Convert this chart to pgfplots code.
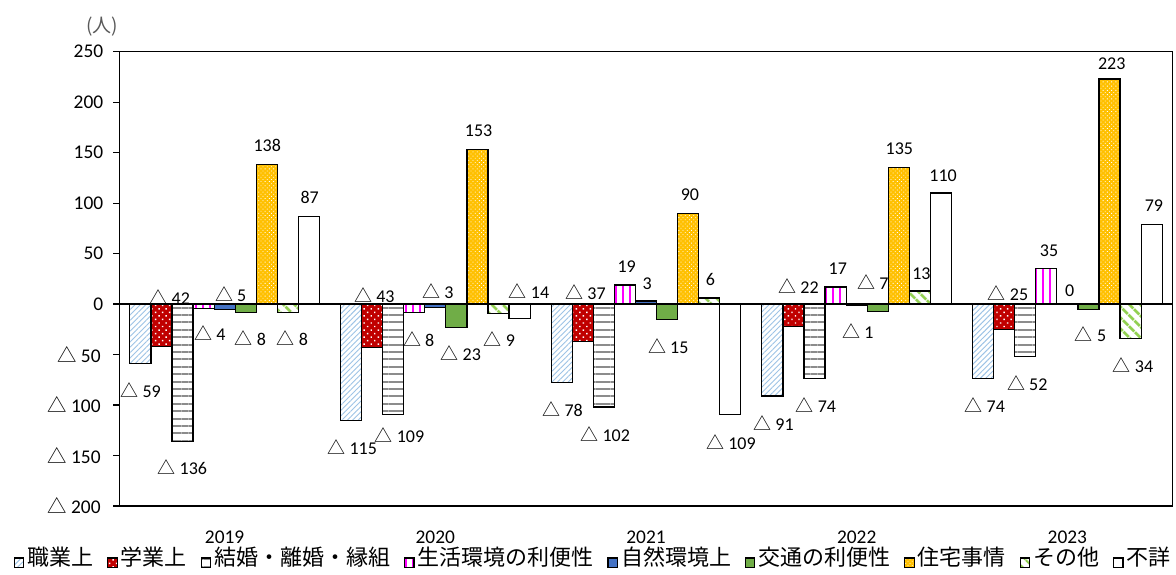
\documentclass[border=0pt]{standalone}
\usepackage{fontspec}
\setmainfont{Carlito}
\newfontfamily\cjk{Noto Sans CJK JP}
\usepackage{pgfplots}
\usepackage{pgfplotstable}
\pgfplotsset{compat=1.18}
\usetikzlibrary{patterns.meta}

\definecolor{jobblue}{HTML}{9DC3E6}
\definecolor{schred}{HTML}{C00000}
\definecolor{margray}{HTML}{8C8C8C}
\definecolor{lifemag}{HTML}{FF00FF}
\definecolor{natblue}{HTML}{4472C4}
\definecolor{trgreen}{HTML}{70AD47}
\definecolor{housegold}{HTML}{FFC000}
\definecolor{othgreen}{HTML}{92D050}
\definecolor{unitgray}{HTML}{595959}

% negative values are written with a triangle instead of a minus sign
\protected\def\tri{{\cjk △}}
\newcommand\vlab[1]{\pgfmathtruncatemacro\vv{#1}%
  \ifnum\vv<0 \tri\ \pgfmathtruncatemacro\va{abs(\vv)}\va\else\vv\fi}

% columns: year index, change (persons), label offset dx, dy (px, dy upward)
\pgfplotstableread{
x y dx dy
0 -59 0.3 -26.3
1 -115 1.2 -26.5
2 -78 0.9 -26.5
3 -91 1.1 -27.3
4 -74 1.7 -26.2
}\tJob
\pgfplotstableread{
x y dx dy
0 -42 8.3 49.5
1 -43 2.3 52.5
2 -37 2.7 49.8
3 -22 5.1 40.3
4 -25 3.9 36.6
}\tSchool
\pgfplotstableread{
x y dx dy
0 -136 -0.2 -25.9
1 -109 6.3 -20.9
2 -102 1.4 -26.9
3 -74 1.3 -26.2
4 -52 2.0 -26.7
}\tMarriage
\pgfplotstableread{
x y dx dy
0 -4 6.4 -25.2
1 -8 4.4 -26.8
2 19 1.7 17.9
3 17 2.2 18.2
4 35 2.7 18.1
}\tLife
\pgfplotstableread{
x y dx dy
0 -5 6.0 14.8
1 -3 2.5 16.4
2 3 1.1 17.4
3 -1 1.2 -25.6
4 0 2.4 13.1
}\tNature
\pgfplotstableread{
x y dx dy
0 -8 4.6 -26.1
1 -23 4.4 -26.0
2 -15 1.2 -26.8
3 -7 -4.9 29.5
4 -5 2.1 -24.9
}\tTraffic
\pgfplotstableread{
x y dx dy
0 138 0.5 19.5
1 153 1.2 18.9
2 90 1.8 18.7
3 135 0.5 19.5
4 223 2.3 15.0
}\tHousing
\pgfplotstableread{
x y dx dy
0 -8 4.5 -26.1
1 -9 0.9 -25.8
2 6 1.2 18.1
3 13 1.6 17.7
4 -34 2.5 -26.6
}\tOther
\pgfplotstableread{
x y dx dy
0 87 0.8 19.0
1 -14 9.4 27.0
2 -109 0.7 -27.6
3 110 2.2 17.7
4 79 2.3 18.6
}\tUnknown

\pgfplotsset{
  % fills of the nine categories
  sJob/.style={fill=white,
    postaction={pattern={Lines[angle=45,distance=1.9pt,line width=0.45pt]}, pattern color=jobblue}},
  sSchool/.style={fill=schred,
    postaction={pattern={Dots[angle=45,distance=2.5pt,radius=0.5pt]}, pattern color=white}},
  sMarriage/.style={fill=white,
    postaction={pattern={Lines[angle=0,distance=3.7pt,line width=1pt]}, pattern color=margray}},
  sLife/.style={fill=white,
    postaction={pattern={Lines[angle=90,distance=3.5pt,line width=1pt]}, pattern color=lifemag}},
  sNature/.style={fill=natblue},
  sTraffic/.style={fill=trgreen},
  sHousing/.style={fill=housegold,
    postaction={pattern={Dots[angle=45,distance=1.5pt,radius=0.3pt]}, pattern color=white}},
  sOther/.style={fill=white,
    postaction={pattern={Lines[angle=-45,distance=4pt,line width=1.5pt]}, pattern color=othgreen}},
  sUnknown/.style={fill=white},
  leg/.style={draw=black, line width=0.6pt,
    legend image code/.code={\draw[##1] (0pt,-4.3pt) rectangle (4.7pt,0.4pt);}},
  bb/.style={ybar, bar width=0.1, draw=black, line width=0.6pt, forget plot},
  % value labels: placed beside the bar end, text taken from the same y value
  lab/.style={draw=none, forget plot, point meta=explicit symbolic,
    nodes near coords={\vlab{\pgfplotspointmeta}},
    every node near coord/.append style={anchor=center, inner sep=0pt,
      font=\fontsize{9}{10}\selectfont, text=black}},
}
% labels of the negative ticks, written as text beside the tick marks
\tikzset{negtick/.style={anchor=east, inner sep=0pt, xshift=-9.15pt,
  font=\fontsize{9.7}{11}\selectfont, text=black}}

\begin{document}
\begin{tikzpicture}
\begin{axis}[
  name=ax,
  scale only axis,
  width=526.7pt, height=227.15pt,
  xmin=-0.5, xmax=4.5, ymin=-200, ymax=250,
  xtick={0,1,2,3,4},
  xticklabels={2019,2020,2021,2022,2023},
  ytick={-200,-150,-100,-50,0,50,100,150,200,250},
  yticklabels={,,,,0,50,100,150,200,250},
  xtick style={draw=none},
  ytick pos=left,
  tick align=outside,
  major tick length=3pt,
  ytick style={black, line width=0.6pt},
  axis line style={black, line width=0.7pt},
  tick label style={font=\fontsize{9.7}{11}\selectfont, text=black},
  xticklabel style={yshift=-6pt},
  yticklabel style={xshift=-1.5pt},
  clip=false,
  legend columns=-1,
  legend style={draw=none, fill=none, inner sep=0pt,
    at={(-0.1006,-0.1160)}, anchor=west,
    font=\cjk\fontsize{11}{13}\selectfont,
    nodes={inner sep=0pt, text height=8pt, text depth=1.2pt},
    /tikz/every odd column/.append style={column sep=1.6pt},
    /tikz/every even column/.append style={column sep=6.8pt}},
  legend cell align=left,
]
\addplot[bb, bar shift=-0.4, sJob] table[x=x,y=y] {\tJob};
\addplot[bb, bar shift=-0.3, sSchool] table[x=x,y=y] {\tSchool};
\addplot[bb, bar shift=-0.2, sMarriage] table[x=x,y=y] {\tMarriage};
\addplot[bb, bar shift=-0.1, sLife] table[x=x,y=y] {\tLife};
\addplot[bb, bar shift=0, sNature] table[x=x,y=y] {\tNature};
\addplot[bb, bar shift=0.1, sTraffic] table[x=x,y=y] {\tTraffic};
\addplot[bb, bar shift=0.2, sHousing] table[x=x,y=y] {\tHousing};
\addplot[bb, bar shift=0.3, sOther] table[x=x,y=y] {\tOther};
\addplot[bb, bar shift=0.4, sUnknown] table[x=x,y=y] {\tUnknown};
% zero line across the plot
\draw[black, line width=0.6pt] (axis cs:-0.5,0) -- (axis cs:4.5,0);
% negative tick labels
\node[negtick] at (axis cs:-0.5,-50) {\tri\ 50};
\node[negtick] at (axis cs:-0.5,-100) {\tri\ 100};
\node[negtick] at (axis cs:-0.5,-150) {\tri\ 150};
\node[negtick] at (axis cs:-0.5,-200) {\tri\ 200};
% labels: bar shift plus offsets (px -> axis units: 210.68 px per year, 1.0096 px per person)
\addplot[lab] table[x expr=\thisrow{x}-0.4+\thisrow{dx}/210.68, y expr=\thisrow{y}+\thisrow{dy}/1.0096, meta=y] {\tJob};
\addplot[lab] table[x expr=\thisrow{x}-0.3+\thisrow{dx}/210.68, y expr=\thisrow{y}+\thisrow{dy}/1.0096, meta=y] {\tSchool};
\addplot[lab] table[x expr=\thisrow{x}-0.2+\thisrow{dx}/210.68, y expr=\thisrow{y}+\thisrow{dy}/1.0096, meta=y] {\tMarriage};
\addplot[lab] table[x expr=\thisrow{x}-0.1+\thisrow{dx}/210.68, y expr=\thisrow{y}+\thisrow{dy}/1.0096, meta=y] {\tLife};
\addplot[lab] table[x expr=\thisrow{x}+\thisrow{dx}/210.68, y expr=\thisrow{y}+\thisrow{dy}/1.0096, meta=y] {\tNature};
\addplot[lab] table[x expr=\thisrow{x}+0.1+\thisrow{dx}/210.68, y expr=\thisrow{y}+\thisrow{dy}/1.0096, meta=y] {\tTraffic};
\addplot[lab] table[x expr=\thisrow{x}+0.2+\thisrow{dx}/210.68, y expr=\thisrow{y}+\thisrow{dy}/1.0096, meta=y] {\tHousing};
\addplot[lab] table[x expr=\thisrow{x}+0.3+\thisrow{dx}/210.68, y expr=\thisrow{y}+\thisrow{dy}/1.0096, meta=y] {\tOther};
\addplot[lab] table[x expr=\thisrow{x}+0.4+\thisrow{dx}/210.68, y expr=\thisrow{y}+\thisrow{dy}/1.0096, meta=y] {\tUnknown};
\addlegendimage{leg, sJob}\addlegendentry{職業上}
\addlegendimage{leg, sSchool}\addlegendentry{学業上}
\addlegendimage{leg, sMarriage}\addlegendentry{結婚・離婚・縁組}
\addlegendimage{leg, sLife}\addlegendentry{生活環境の利便性}
\addlegendimage{leg, sNature}\addlegendentry{自然環境上}
\addlegendimage{leg, sTraffic}\addlegendentry{交通の利便性}
\addlegendimage{leg, sHousing}\addlegendentry{住宅事情}
\addlegendimage{leg, sOther}\addlegendentry{その他}
\addlegendimage{leg, sUnknown}\addlegendentry{不詳}
\end{axis}
\node[font=\cjk\fontsize{9.5}{11}\selectfont, text=unitgray]
  at ([xshift=-8.65pt,yshift=12.5pt]ax.north west) {(人)};
\pgfresetboundingbox
\useasboundingbox ([xshift=-59.65pt,yshift=-34pt]ax.south west) rectangle ++(588pt,287pt);
\end{tikzpicture}
\end{document}
